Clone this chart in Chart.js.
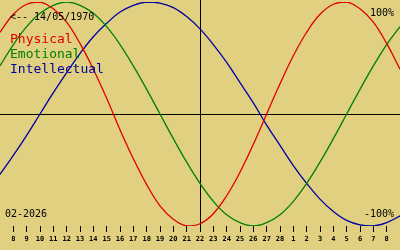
<!DOCTYPE html>
<html>
<head>
<meta charset="utf-8">
<script src="https://cdn.jsdelivr.net/npm/chart.js@4/dist/chart.umd.min.js"></script>
<style>
  html, body { margin: 0; padding: 0; background: #e0d080; }
  #wrap { width: 400px; height: 250px; }
</style>
</head>
<body>
<div id="wrap"><canvas id="bio"></canvas></div>
<script>
// tick labels, 8 Feb -> 8 Mar 2026
const dayLabels = ['8', '9', '10', '11', '12', '13', '14', '15', '16', '17', '18', '19', '20', '21',
    '22', '23', '24', '25', '26', '27', '28', '1', '2', '3', '4', '5', '6', '7', '8'];

// curve values, one per day, starting one day before the first tick and ending one day after the last
const physical = [0.73, 0.89, 0.98, 1.00, 0.94, 0.82, 0.63, 0.40, 0.14, -0.14, -0.40, -0.63, -0.82,
    -0.94, -1.00, -0.98, -0.89, -0.73, -0.52, -0.27, 0, 0.27, 0.52, 0.73, 0.89, 0.98, 1.00, 0.94,
    0.82, 0.63, 0.40];
const emotional = [0.43, 0.62, 0.78, 0.90, 0.97, 1.00, 0.97, 0.90, 0.78, 0.62, 0.43, 0.22, 0, -0.22,
    -0.43, -0.62, -0.78, -0.90, -0.97, -1.00, -0.97, -0.90, -0.78, -0.62, -0.43, -0.22, 0, 0.22,
    0.43, 0.62, 0.78];
const intellectual = [-0.54, -0.37, -0.19, 0, 0.19, 0.37, 0.54, 0.69, 0.81, 0.91, 0.97, 1.00, 0.99,
    0.95, 0.87, 0.76, 0.62, 0.46, 0.28, 0.10, -0.10, -0.28, -0.46, -0.62, -0.76, -0.87, -0.95,
    -0.99, -1.00, -0.97, -0.91];

const seriesNames = ['Physical', 'Emotional', 'Intellectual'];
const seriesColors = ['#e00000', '#008000', '#0000a0'];
const todayIndex = 14; // the 22nd
const birthText = '<-- 14/05/1970';
const monthText = '02-2026';

function points(values) {
    return values.map((v, i) => ({ x: i - 1, y: v }));
}

// axes lines + texts
const bioDecor = {
    id: 'bioDecor',
    beforeDatasetsDraw(chart) {
        const { ctx, chartArea, scales } = chart;
        const x0 = Math.round(scales.x.getPixelForValue(todayIndex)) + 0.5;
        const y0 = Math.round(scales.y.getPixelForValue(0)) + 0.5;
        ctx.save();
        ctx.strokeStyle = '#000';
        ctx.lineWidth = 1;
        ctx.beginPath();
        ctx.moveTo(x0, 0);
        ctx.lineTo(x0, chartArea.bottom);
        ctx.moveTo(0, y0);
        ctx.lineTo(chart.width, y0);
        ctx.stroke();
        ctx.restore();
    },
    afterDatasetsDraw(chart) {
        const ctx = chart.ctx;
        ctx.save();
        ctx.textBaseline = 'alphabetic';
        ctx.fillStyle = '#000';
        ctx.font = '10px "DejaVu Sans Mono"';
        ctx.textAlign = 'left';
        ctx.fillText(birthText, 10, 20);
        ctx.fillText(monthText, 5, 217);
        ctx.textAlign = 'right';
        ctx.fillText('100%', 394, 16);
        ctx.fillText('-100%', 394, 217);
        ctx.textAlign = 'left';
        ctx.font = '13px "DejaVu Sans Mono"';
        for (let i = 0; i < seriesNames.length; i++) {
            ctx.fillStyle = seriesColors[i];
            ctx.fillText(seriesNames[i], 10, 43 + i * 15);
        }
        ctx.restore();
    }
};

new Chart(document.getElementById('bio'), {
    type: 'line',
    data: {
        datasets: [physical, emotional, intellectual].map((vals, i) => ({
            label: seriesNames[i],
            data: points(vals),
            borderColor: seriesColors[i],
            borderWidth: 1.3,
            pointRadius: 0,
            tension: 0.4,
            fill: false
        }))
    },
    options: {
        responsive: true,
        maintainAspectRatio: false,
        animation: false,
        devicePixelRatio: 1,
        layout: { padding: { top: 2, left: 0, right: 0, bottom: 0 } },
        plugins: { legend: { display: false }, tooltip: { enabled: false } },
        scales: {
            x: {
                type: 'linear',
                min: -1,
                max: dayLabels.length,
                afterBuildTicks: (axis) => { axis.ticks = dayLabels.map((_, i) => ({ value: i })); },
                afterFit: (axis) => { axis.height = 24; },
                border: { display: false },
                grid: { drawOnChartArea: false, drawTicks: true, tickLength: 6, tickColor: '#000', tickWidth: 1 },
                ticks: {
                    autoSkip: false,
                    maxRotation: 0,
                    padding: 3,
                    color: '#000',
                    font: { family: 'DejaVu Sans Mono', size: 7, weight: 'bold' },
                    callback: (value) => dayLabels[value] ?? ''
                }
            },
            y: {
                display: false,
                min: -1,
                max: 1
            }
        }
    },
    plugins: [bioDecor]
});
</script>
</body>
</html>
